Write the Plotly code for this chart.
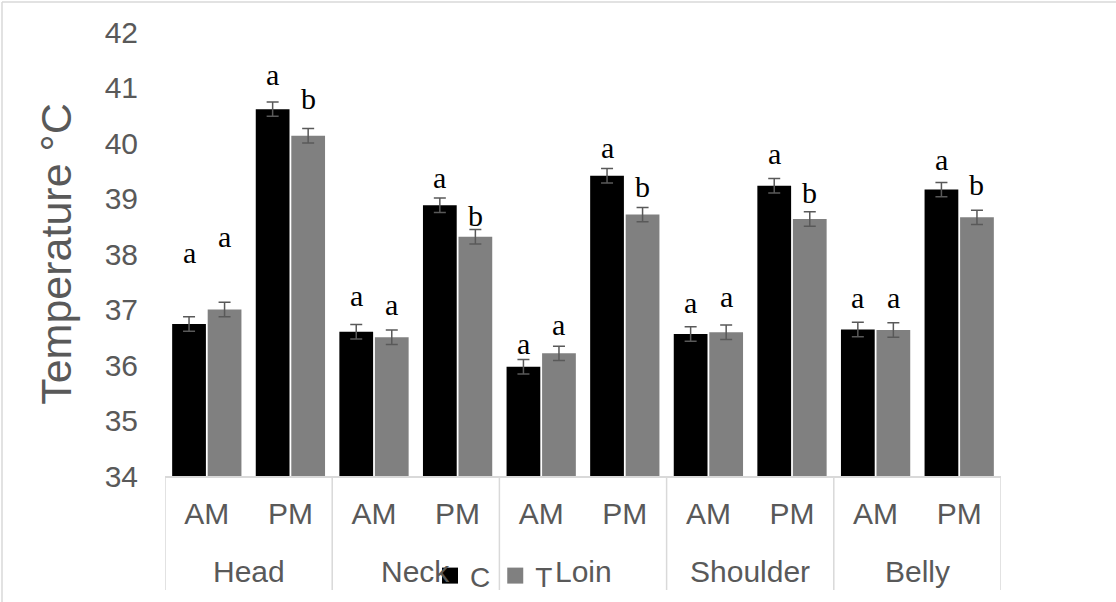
import plotly.graph_objects as go

# ---- data ----
parts = ["Head", "Neck", "Loin", "Shoulder", "Belly"]
times = ["AM", "PM"]
c_values = [36.74, 40.61, 36.60, 38.88, 35.97, 39.41, 36.56, 39.23, 36.64, 39.16]
t_values = [37.00, 40.13, 36.50, 38.31, 36.21, 38.71, 36.59, 38.63, 36.63, 38.66]
c_err = [0.13, 0.13, 0.13, 0.13, 0.13, 0.13, 0.13, 0.13, 0.13, 0.13]
t_err = [0.13, 0.13, 0.13, 0.13, 0.13, 0.13, 0.13, 0.13, 0.13, 0.13]
c_letters = ["a", "a", "a", "a", "a", "a", "a", "a", "a", "a"]
t_letters = ["a", "b", "a", "b", "a", "b", "a", "b", "a", "b"]
y_ticks = [34, 35, 36, 37, 38, 39, 40, 41, 42]

# ---- layout / style ----
c_shift = [54, 17, 18, 10, 5, 11, 14, 15, 14, 12]
t_shift = [55, 20, 15, 4, 11, 10, 18, 9, 15, 15]
BARGAP = 0.15
BARGROUPGAP = 0.05
W, H = 1116, 602
ML, MR, MT, MB = 165, 115, 32, 126
GRAY_TXT = "#595959"
LINE = "#d9d9d9"
pw = W - ML - MR
ph = H - MT - MB

tick_labels = [t for _ in parts for t in times]
xpos = list(range(len(tick_labels)))

fig = go.Figure()
fig.add_trace(go.Bar(
    x=xpos, y=c_values, name="C", marker=dict(color="#000000", line=dict(width=0)),
    error_y=dict(type="data", array=c_err, color="#595959", thickness=1.5, width=6),
    showlegend=False,
))
fig.add_trace(go.Bar(
    x=xpos, y=t_values, name="T", marker=dict(color="#808080", line=dict(width=0)),
    error_y=dict(type="data", array=t_err, color="#595959", thickness=1.5, width=6),
    showlegend=False,
))
# legend entries
fig.add_trace(go.Scatter(x=[None], y=[None], mode="markers", name="C",
                         marker=dict(symbol="square", size=17, color="#000000")))
fig.add_trace(go.Scatter(x=[None], y=[None], mode="markers", name="T",
                         marker=dict(symbol="square", size=17, color="#808080")))

slot = (1 - BARGAP) / 2
annotations = []
for i in range(len(c_values)):
    for off, vals, errs, letters, shifts in (
        (-slot / 2, c_values, c_err, c_letters, c_shift),
        (slot / 2, t_values, t_err, t_letters, t_shift),
    ):
        annotations.append(dict(
            x=xpos[i] + off, y=vals[i] + errs[i], xref="x", yref="y",
            text=letters[i], showarrow=False, yanchor="bottom",
            yshift=shifts[i] - 8,
            font=dict(family="Liberation Serif, Times New Roman, serif", size=30, color="#000000"),
        ))

# group labels and dividers
n_sub = len(times)
shapes = []
for k, p in enumerate(parts):
    annotations.append(dict(
        x=k * n_sub + (n_sub - 1) / 2, y=-95 / ph, xref="x", yref="paper",
        text=p, showarrow=False, yanchor="middle",
        font=dict(size=30, color=GRAY_TXT),
    ))
for k in range(len(parts) + 1):
    xd = k * n_sub - 0.5
    shapes.append(dict(type="line", xref="x", yref="paper", x0=xd, x1=xd,
                       y0=0, y1=-114 / ph, line=dict(color=LINE, width=1.5)))

# outer border (top and left)
shapes += [
    dict(type="line", xref="paper", yref="paper",
         x0=-(ML - 2) / pw, x1=(W - ML) / pw, y0=(ph + MT - 2) / ph, y1=(ph + MT - 2) / ph,
         line=dict(color=LINE, width=1.5)),
    dict(type="line", xref="paper", yref="paper",
         x0=-(ML - 2) / pw, x1=-(ML - 2) / pw, y0=-MB / ph, y1=(ph + MT - 2) / ph,
         line=dict(color=LINE, width=1.5)),
]

fig.update_layout(
    width=W, height=H,
    margin=dict(l=ML, r=MR, t=MT, b=MB, autoexpand=False),
    paper_bgcolor="white", plot_bgcolor="white",
    barmode="group", bargap=BARGAP, bargroupgap=BARGROUPGAP,
    font=dict(family="Liberation Sans, Arial, sans-serif", color=GRAY_TXT),
    annotations=annotations,
    shapes=shapes,
    legend=dict(orientation="h", x=0.317, y=-0.225, xanchor="left", yanchor="middle",
                bgcolor="rgba(0,0,0,0)", font=dict(size=28, color=GRAY_TXT),
                itemwidth=30, tracegroupgap=0),
    xaxis=dict(range=[-0.5, len(xpos) - 0.5], tickvals=xpos, ticktext=tick_labels,
               showline=True, linecolor=LINE, linewidth=1.5, zeroline=False,
               tickfont=dict(size=30, color=GRAY_TXT), showgrid=False, ticks="",
               ticklabelstandoff=10, automargin=False),
    yaxis=dict(range=[34, 42], tickvals=y_ticks, showgrid=False, showline=False,
               zeroline=False, ticks="", ticklabelstandoff=26,
               tickfont=dict(size=30, color=GRAY_TXT), automargin=False,
               title=dict(text="Temperature °C", font=dict(size=43, color=GRAY_TXT), standoff=19)),
)

fig.write_html("out.html", post_script="document.body.style.margin='0';",
               config={"displayModeBar": False})
